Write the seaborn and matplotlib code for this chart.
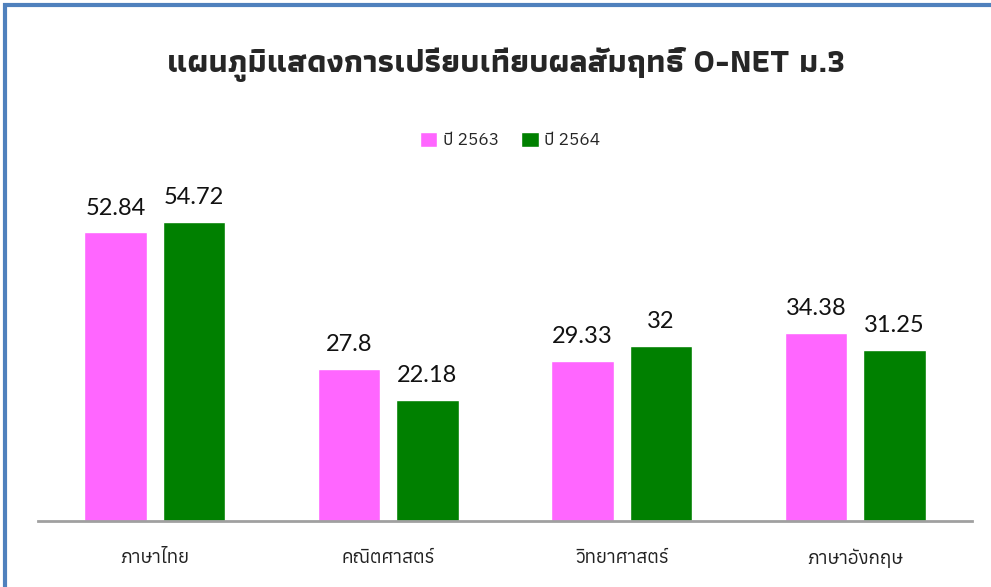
import pandas as pd
import matplotlib
matplotlib.use("Agg")
import matplotlib.pyplot as plt
import matplotlib.font_manager as fm
from matplotlib.ft2font import FT2Font
from matplotlib.patches import Rectangle
import seaborn as sns

# DATA
subjects = ["ภาษาไทย", "คณิตศาสตร์", "วิทยาศาสตร์", "ภาษาอังกฤษ"]
years = ["ปี 2563", "ปี 2564"]
scores_2563 = [52.84, 27.8, 29.33, 34.38]
scores_2564 = [54.72, 22.18, 32, 31.25]
title = "แผนภูมิแสดงการเปรียบเทียบผลสัมฤทธิ์ O-NET ม.3"

df = pd.DataFrame({
    "subject": subjects * 2,
    "year": [years[0]] * 4 + [years[1]] * 4,
    "score": scores_2563 + scores_2564,
})

# find installed fonts that have thai glyphs
thai_fonts, thai_bold = set(), set()
for f in fm.fontManager.ttflist:
    try:
        if 0x0E01 in FT2Font(f.fname).get_charmap():
            thai_fonts.add(f.name)
            w = f.weight
            if (isinstance(w, int) and w >= 600) or "bold" in str(w).lower():
                thai_bold.add(f.name)
    except Exception:
        pass
thai_fonts = sorted(thai_fonts)
title_fonts = sorted(thai_bold) + thai_fonts

sns.set_theme(style="white")
plt.rcParams["font.family"] = thai_fonts + ["DejaVu Sans"]

fig = plt.figure(figsize=(9.91, 5.87), dpi=100)
ax = fig.add_axes([38 / 991, 1 - 521 / 587, 934 / 991, 361 / 587])

sns.barplot(data=df, x="subject", y="score", hue="year",
            palette=["#ff66ff", "#008000"], width=0.67, gap=0.2,
            saturation=1, ax=ax)

for c in ax.containers:
    ax.bar_label(c, labels=[f"{v:g}" for v in c.datavalues], padding=10,
                 fontsize=17, family=["Lato", "DejaVu Sans"], color="#111111")

ax.set_ylim(0, 361 / 5.46)
ax.set_xlim(-0.5, 3.5)
ax.set_xlabel("")
ax.set_ylabel("")
ax.set_yticks([])
ax.tick_params(axis="x", length=0, pad=20, labelsize=13.5, labelcolor="#222222")
for s in ["top", "right", "left"]:
    ax.spines[s].set_visible(False)
ax.spines["bottom"].set_color("#a0a0a0")
ax.spines["bottom"].set_linewidth(2)

ax.legend(loc="center", bbox_to_anchor=(510 / 991, 1 - 140 / 587),
          bbox_transform=fig.transFigure, ncol=2, frameon=False,
          fontsize=12.5, handlelength=1.0, handleheight=1.0,
          handletextpad=0.3, columnspacing=1.3)

fig.text(506 / 991, 1 - 65 / 587, title, ha="center", va="center",
         fontsize=23, fontweight="bold", family=title_fonts + ["DejaVu Sans"])

# blue frame (cropped on right and bottom)
fig.patches.append(Rectangle((5 / 991, -0.05), 1.2, 1 - 5 / 587 + 0.05,
                             transform=fig.transFigure, fill=False,
                             edgecolor="#4f81bd", linewidth=3))

fig.savefig("out.png", dpi=100)
